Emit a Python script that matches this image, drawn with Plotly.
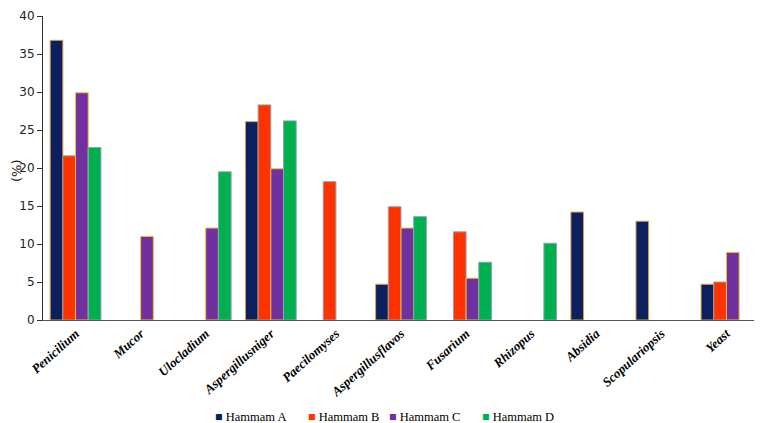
import plotly.graph_objects as go

# Fungal genera isolated per hammam (%); None = not isolated
genera = ["Penicilium", "Mucor", "Ulocladium", "Aspergillusniger", "Paecilomyses",
          "Aspergillusflavos", "Fusarium", "Rhizopus", "Absidia", "Scopulariopsis", "Yeast"]

hammam_a = [36.8, None, None, 26.1, None, 4.7, None, None, 14.2, 13.0, 4.7]
hammam_b = [21.6, None, None, 28.3, 18.2, 14.9, 11.6, None, None, None, 5.0]
hammam_c = [29.9, 11.0, 12.1, 19.9, None, 12.1, 5.5, None, None, None, 8.9]
hammam_d = [22.7, None, 19.5, 26.2, None, 13.6, 7.6, 10.1, None, None, None]

series = [
    ("Hammam A", hammam_a, "#0c1f5e", "#d9a24a"),
    ("Hammam B", hammam_b, "#ff3300", "#8fa3b3"),
    ("Hammam C", hammam_c, "#7030a0", "#f2c230"),
    ("Hammam D", hammam_d, "#00b050", "#8fa3b3"),
]
legend_x = [0.238, 0.367, 0.481, 0.610]

fig = go.Figure()
for name, vals, color, edge in series:
    fig.add_trace(go.Bar(
        x=genera,
        y=vals,
        name=name,
        marker=dict(color=color, line=dict(color=edge, width=1)),
        showlegend=False,
    ))

# legend row drawn as text so the spacing matches the original
annotations = []
for (name, vals, color, edge), lx in zip(series, legend_x):
    annotations.append(dict(
        text=f'<span style="color:{color}">■</span> {name}',
        showarrow=False, xref="paper", yref="paper",
        x=lx, y=-0.32, xanchor="left", yanchor="middle",
        font=dict(family="Liberation Serif", size=12.5, color="black"),
    ))
annotations.append(dict(
    text="(%)", textangle=-90, showarrow=False,
    xref="paper", yref="paper", x=-0.0377, y=0.49,
    xanchor="center", yanchor="middle",
    font=dict(family="DejaVu Sans", size=13, color="#222222"),
))

# page body adds an 8px offset, margins account for it
fig.update_layout(
    width=762,
    height=423,
    barmode="group",
    bargap=0.22,
    bargroupgap=0,
    plot_bgcolor="white",
    paper_bgcolor="white",
    margin=dict(l=35, r=11, t=8, b=111, autoexpand=False),
    font=dict(family="Liberation Serif", color="black"),
    xaxis=dict(
        automargin=False,
        showline=True,
        linecolor="#555555",
        linewidth=1,
        ticks="",
        tickangle=-42,
        tickfont=dict(family="Liberation Serif", size=13, color="black",
                      weight="bold", style="italic"),
    ),
    yaxis=dict(
        automargin=False,
        range=[0, 40],
        dtick=5,
        showgrid=False,
        zeroline=False,
        showline=True,
        linecolor="#333333",
        linewidth=1,
        ticks="outside",
        ticklen=5,
        tickcolor="#333333",
        tickfont=dict(family="DejaVu Sans", size=12, color="#222222"),
    ),
    annotations=annotations,
)

fig.write_html("out.html")
